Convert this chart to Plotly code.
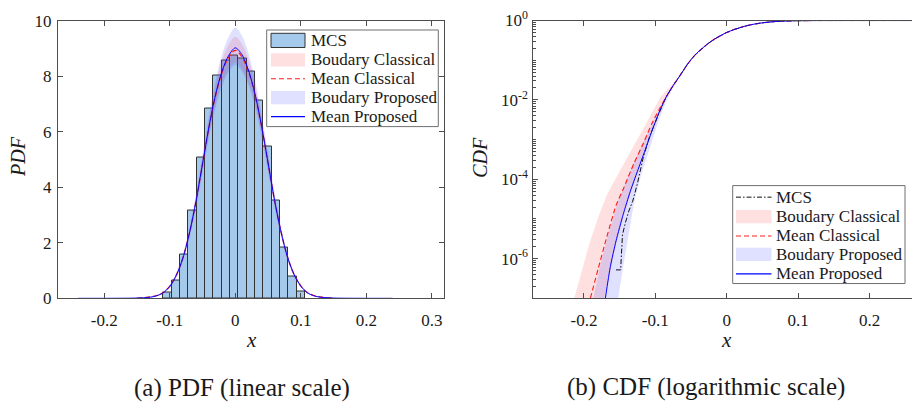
import numpy as np
import plotly.graph_objects as go

W, H = 912, 416
FONT = "Liberation Serif"
AX = "#4d4d4d"
TXT = "#1a1a1a"

# ------------------------------------------------------------------ data (a)
hist_edges = [-0.1100, -0.0973, -0.0845, -0.0718, -0.0591, -0.0464, -0.0336, -0.0209,
              -0.0082, 0.0045, 0.0173, 0.0300, 0.0427, 0.0555, 0.0682, 0.0809, 0.0936, 0.1064]
hist_density = [0.22, 0.64, 1.58, 3.15, 5.07, 6.82, 8.01, 8.55, 8.75, 8.63, 8.15, 7.11,
                5.45, 3.51, 1.84, 0.78, 0.25]

pdf_x = [-0.15, -0.14, -0.13, -0.12, -0.11, -0.10, -0.09, -0.08, -0.07, -0.06, -0.05,
         -0.04, -0.03, -0.02, -0.01, 0.00, 0.01, 0.02, 0.03, 0.04, 0.05, 0.06, 0.07,
         0.08, 0.09, 0.10, 0.11, 0.12, 0.13, 0.14, 0.15]
pdf_mean_classical = [0.01, 0.02, 0.05, 0.10, 0.21, 0.44, 0.84, 1.46, 2.36, 3.50, 4.84,
                      6.18, 7.32, 8.15, 8.68, 8.93, 8.70, 8.16, 7.34, 6.20, 4.87, 3.52,
                      2.38, 1.47, 0.85, 0.45, 0.21, 0.10, 0.05, 0.02, 0.01]
pdf_upper_classical = [0.02, 0.03, 0.06, 0.12, 0.23, 0.47, 0.89, 1.53, 2.47, 3.66, 5.06,
                       6.45, 7.68, 8.58, 9.14, 9.42, 9.16, 8.60, 7.70, 6.47, 5.09, 3.68,
                       2.49, 1.54, 0.90, 0.48, 0.23, 0.12, 0.06, 0.03, 0.02]
pdf_lower_classical = [0.00, 0.01, 0.04, 0.08, 0.19, 0.41, 0.79, 1.39, 2.25, 3.35, 4.63,
                       5.92, 7.00, 7.77, 8.25, 8.50, 8.27, 7.78, 7.02, 5.94, 4.66, 3.37,
                       2.27, 1.40, 0.80, 0.42, 0.19, 0.08, 0.04, 0.01, 0.00]
pdf_upper_proposed = [0.02, 0.03, 0.06, 0.12, 0.24, 0.49, 0.92, 1.58, 2.54, 3.76, 5.18,
                      6.62, 7.86, 8.80, 9.42, 9.74, 9.46, 8.82, 7.88, 6.64, 5.21, 3.78,
                      2.56, 1.59, 0.93, 0.50, 0.24, 0.12, 0.06, 0.03, 0.02]
pdf_lower_proposed = [0.00, 0.01, 0.03, 0.07, 0.17, 0.38, 0.75, 1.33, 2.17, 3.25, 4.52,
                      5.80, 6.88, 7.65, 8.15, 8.40, 8.17, 7.67, 6.90, 5.82, 4.55, 3.27,
                      2.19, 1.34, 0.76, 0.39, 0.17, 0.07, 0.03, 0.01, 0.00]
pdf_x_proposed = [-0.24, -0.20, -0.16] + pdf_x + [0.16, 0.20, 0.24]
pdf_mean_proposed = [0.0, 0.0, 0.005, 0.01, 0.02, 0.04, 0.09, 0.20, 0.43, 0.83, 1.45, 2.35,
                     3.50, 4.85, 6.20, 7.35, 8.20, 8.75, 9.02, 8.78, 8.22, 7.37, 6.22, 4.88,
                     3.52, 2.37, 1.46, 0.84, 0.44, 0.20, 0.09, 0.04, 0.02, 0.01, 0.005, 0.0, 0.0]

# ------------------------------------------------------------------ data (b)
cdf_x_upper = [-0.085, -0.075, -0.065, -0.055, -0.045, -0.035, -0.025, -0.015, -0.005,
               0.000, 0.010, 0.020, 0.030, 0.040, 0.050, 0.060, 0.070, 0.080, 0.090,
               0.100, 0.120, 0.150, 0.270]
cdf_upper = [1.17e-2, 2.3e-2, 4.2e-2, 7.9e-2, 0.132, 0.195, 0.272, 0.359, 0.452,
             0.50, 0.59, 0.675, 0.755, 0.822, 0.876, 0.918, 0.948, 0.968, 0.982,
             0.991, 0.998, 1.0, 1.0]

cdf_x_mean_classical_tail = [-0.191, -0.180, -0.168, -0.155, -0.145, -0.130, -0.117, -0.105, -0.095]
cdf_mean_classical_tail = [1.0e-7, 5.6e-7, 3.5e-6, 2.2e-5, 5.6e-5, 2.5e-4, 7.9e-4, 2.5e-3, 5.6e-3]

cdf_x_mean_proposed_tail = [-0.170, -0.163, -0.155, -0.145, -0.135, -0.125, -0.115, -0.105, -0.095]
cdf_mean_proposed_tail = [1.0e-7, 6.3e-7, 2.8e-6, 1.3e-5, 5.0e-5, 1.6e-4, 5.0e-4, 1.6e-3, 4.7e-3]

cdf_x_mcs_tail = [-0.155, -0.1485, -0.1475, -0.146, -0.142, -0.137, -0.1317, -0.125, -0.117,
                  -0.108, -0.095]
cdf_mcs_tail = [5.2e-7, 5.2e-7, 1.26e-6, 4.0e-6, 7.9e-6, 1.6e-5, 2.8e-5, 7.9e-5, 3.5e-4,
                1.2e-3, 4.5e-3]

band_cl_hi_x = [-0.2135, -0.203, -0.192, -0.180, -0.168, -0.150, -0.133, -0.113, -0.093,
                -0.080, -0.070, -0.060]
band_cl_hi = [1e-7, 5e-7, 2.5e-6, 1.1e-5, 4.0e-5, 1.6e-4, 5.6e-4, 2.5e-3, 1.17e-2,
              2.1e-2, 3.3e-2, 6.0e-2]
band_cl_lo_x = [-0.172, -0.163, -0.155, -0.145, -0.135, -0.125, -0.115, -0.105, -0.095,
                -0.085, -0.075, -0.060]
band_cl_lo = [1e-7, 5e-7, 2.3e-6, 1.1e-5, 4.2e-5, 1.4e-4, 4.5e-4, 1.45e-3, 4.4e-3,
              1.1e-2, 2.2e-2, 5.8e-2]
band_pr_hi_x = [-0.187, -0.177, -0.166, -0.153, -0.140, -0.127, -0.113, -0.100, -0.090,
                -0.080, -0.070, -0.060]
band_pr_hi = [1e-7, 7e-7, 4e-6, 2.5e-5, 1e-4, 3.5e-4, 1.2e-3, 3.8e-3, 8.5e-3,
              1.7e-2, 3.1e-2, 6.0e-2]
band_pr_lo_x = [-0.152, -0.145, -0.138, -0.130, -0.120, -0.108, -0.095, -0.085, -0.078,
                -0.070, -0.060]
band_pr_lo = [1e-7, 6.3e-7, 4e-6, 2.5e-5, 1.26e-4, 6.3e-4, 3.2e-3, 8.9e-3, 1.6e-2,
              2.9e-2, 5.8e-2]

legend_labels = ["MCS", "Boudary Classical", "Mean Classical", "Boudary Proposed", "Mean Proposed"]
pdf_ticks_x = [-0.2, -0.1, 0, 0.1, 0.2, 0.3]
pdf_ticktext_x = ["-0.2", "-0.1", "0", "0.1", "0.2", "0.3"]
pdf_ticks_y = [0, 2, 4, 6, 8, 10]
cdf_ticks_x = [-0.2, -0.1, 0, 0.1, 0.2]
cdf_ticktext_x = ["-0.2", "-0.1", "0", "0.1", "0.2"]
cdf_ticks_y = [1e-6, 1e-4, 1e-2, 1e0]
cdf_ticktext_y = ["10<sup>-6</sup>", "10<sup>-4</sup>", "10<sup>-2</sup>", "10<sup>0</sup>"]
captions = ["(a) PDF (linear scale)", "(b) CDF (logarithmic scale)"]

# ------------------------------------------------------------------ styles
BAR_FILL = "rgb(164,201,234)"
BAR_EDGE = "rgb(50,50,50)"
PINK = "rgba(255,60,60,0.16)"
LILAC = "rgba(60,60,255,0.16)"
RED = "#ff1a1a"
BLUE = "#0000ff"

fig = go.Figure()

# ---- (a) PDF
edges = np.array(hist_edges)
centers = (edges[:-1] + edges[1:]) / 2
widths = np.diff(edges)
fig.add_trace(go.Bar(x=centers, y=hist_density, width=widths, marker=dict(color=BAR_FILL,
              line=dict(color=BAR_EDGE, width=1)), xaxis="x", yaxis="y", showlegend=False))
fig.add_trace(go.Scatter(x=pdf_x, y=pdf_lower_classical, mode="lines", line=dict(width=0, shape="spline"),
                         xaxis="x", yaxis="y", showlegend=False, hoverinfo="skip"))
fig.add_trace(go.Scatter(x=pdf_x, y=pdf_upper_classical, mode="lines", line=dict(width=0, shape="spline"),
                         fill="tonexty", fillcolor=PINK, xaxis="x", yaxis="y", showlegend=False))
fig.add_trace(go.Scatter(x=pdf_x, y=pdf_lower_proposed, mode="lines", line=dict(width=0, shape="spline"),
                         xaxis="x", yaxis="y", showlegend=False, hoverinfo="skip"))
fig.add_trace(go.Scatter(x=pdf_x, y=pdf_upper_proposed, mode="lines", line=dict(width=0, shape="spline"),
                         fill="tonexty", fillcolor=LILAC, xaxis="x", yaxis="y", showlegend=False))
fig.add_trace(go.Scatter(x=pdf_x, y=pdf_mean_classical, mode="lines",
                         line=dict(color=RED, width=1.2, dash="5px,3px", shape="spline"),
                         xaxis="x", yaxis="y", showlegend=False))
fig.add_trace(go.Scatter(x=pdf_x_proposed, y=pdf_mean_proposed, mode="lines",
                         line=dict(color=BLUE, width=1.0, shape="spline", smoothing=0.8),
                         xaxis="x", yaxis="y", showlegend=False))

# ---- (b) CDF
def band(xh, yh, xl, yl):
    shared = [(x, y) for x, y in zip(cdf_x_upper, cdf_upper) if x > max(xh[-1], xl[-1]) + 1e-9]
    sx = [p[0] for p in shared]
    sy = [p[1] for p in shared]
    xs = list(xh) + sx + sx[::-1] + list(xl[::-1])
    ys = list(yh) + sy + sy[::-1] + list(yl[::-1])
    return xs, ys

bx, by = band(band_cl_hi_x, band_cl_hi, band_cl_lo_x, band_cl_lo)
fig.add_trace(go.Scatter(x=bx, y=by, mode="lines", line=dict(width=0), fill="toself",
                         fillcolor=PINK, xaxis="x2", yaxis="y2", showlegend=False))
bx, by = band(band_pr_hi_x, band_pr_hi, band_pr_lo_x, band_pr_lo)
fig.add_trace(go.Scatter(x=bx, y=by, mode="lines", line=dict(width=0), fill="toself",
                         fillcolor=LILAC, xaxis="x2", yaxis="y2", showlegend=False))
fig.add_trace(go.Scatter(x=cdf_x_mcs_tail + cdf_x_upper, y=cdf_mcs_tail + cdf_upper, mode="lines",
                         line=dict(color="#111111", width=1, dash="5px,2px,1.5px,2px"),
                         xaxis="x2", yaxis="y2", showlegend=False))
fig.add_trace(go.Scatter(x=cdf_x_mean_classical_tail + cdf_x_upper, y=cdf_mean_classical_tail + cdf_upper,
                         mode="lines", line=dict(color=RED, width=1.1, dash="5px,3px", shape="spline", smoothing=0.6),
                         xaxis="x2", yaxis="y2", showlegend=False))
fig.add_trace(go.Scatter(x=cdf_x_mean_proposed_tail + cdf_x_upper, y=cdf_mean_proposed_tail + cdf_upper,
                         mode="lines", line=dict(color=BLUE, width=1, shape="spline", smoothing=0.6),
                         xaxis="x2", yaxis="y2", showlegend=False))

# ------------------------------------------------------------------ layout
def px(v): return v / W
def py(v): return 1 - v / H

tickfont = dict(family=FONT, size=17, color=TXT)
common = dict(showline=True, linecolor=AX, linewidth=1, ticks="inside", ticklen=5,
              tickcolor=AX, tickwidth=1, showgrid=False, zeroline=False, tickfont=tickfont)

minor_vals = [m * 10.0 ** k for k in range(-7, 0) for m in range(1, 10) if not (m == 1 and k % 2 == 0)]

fig.update_layout(
    width=W, height=H, margin=dict(l=0, r=0, t=0, b=0),
    paper_bgcolor="white", plot_bgcolor="white", bargap=0,
    font=dict(family=FONT, color=TXT),
    xaxis=dict(domain=[px(58), px(444)], range=[-0.2707, 0.3186], tickmode="array",
               tickvals=pdf_ticks_x, ticktext=pdf_ticktext_x, mirror="ticks", anchor="y",
               ticklabelstandoff=6, **common),
    yaxis=dict(domain=[py(302.3), py(9)], range=[0, 10.003], tickmode="array", tickvals=pdf_ticks_y,
               mirror="ticks", anchor="x", ticklabelstandoff=2, **common),
    xaxis2=dict(domain=[px(533.3), 1.0], range=[-0.2709, 0.2595], tickmode="array",
                tickvals=cdf_ticks_x, ticktext=cdf_ticktext_x, mirror="ticks", anchor="y2",
                ticklabelstandoff=6, **common),
    yaxis2=dict(domain=[py(302.3), py(9)], type="log", range=[-7, 0.0003], tickmode="array",
                tickvals=cdf_ticks_y, ticktext=cdf_ticktext_y, anchor="x2", ticklabelstandoff=1,
                minor=dict(tickmode="array", tickvals=minor_vals, ticks="inside", ticklen=3,
                           tickcolor=AX, showgrid=False), **common),
    showlegend=False,
)

shapes = []
annotations = []

def text(x, y, s, size=17, xanchor="center", yanchor="middle", italic=False, angle=0):
    annotations.append(dict(x=px(x), y=py(y), xref="paper", yref="paper", text=(f"<i>{s}</i>" if italic else s),
                            showarrow=False, xanchor=xanchor, yanchor=yanchor, textangle=angle,
                            font=dict(family=FONT, size=size, color=TXT)))

# axis titles and captions
text(251, 346, "x", size=21, italic=True)
text(726.7, 346.5, "x", size=21, italic=True)
text(18, 153, "PDF", size=20, italic=True, angle=-90)
text(480, 154, "CDF", size=20, italic=True, angle=-90)
text(241.7, 397, captions[0], size=25)
text(706.3, 396, captions[1], size=25)

def rect(x0, y0, x1, y1, fill, line=None, lw=1):
    shapes.append(dict(type="rect", xref="paper", yref="paper", x0=px(x0), x1=px(x1), y0=py(y1), y1=py(y0),
                       fillcolor=fill, line=dict(color=line or "rgba(0,0,0,0)", width=lw if line else 0)))

def hline(x0, x1, y, color, width, dash="solid"):
    shapes.append(dict(type="line", xref="paper", yref="paper", x0=px(x0), x1=px(x1), y0=py(y), y1=py(y),
                       line=dict(color=color, width=width, dash=dash)))

def legend(box, rows, sx0, sx1, tx, mcs_as_bar):
    x0, y0, x1, y1 = box
    rect(x0, y0, x1, y1, "white", "#707070", 1)
    for i, (lab, yc) in enumerate(zip(legend_labels, rows)):
        if i == 0:
            if mcs_as_bar:
                rect(sx0, yc - 7.5, sx1, yc + 7.5, BAR_FILL, BAR_EDGE, 1)
            else:
                hline(sx0, sx1, yc, "#111111", 1, "5px,2px,1.5px,2px")
        elif i == 1:
            rect(sx0, yc - 7, sx1, yc + 7, PINK)
        elif i == 2:
            hline(sx0, sx1, yc, RED, 1.2, "5px,3px")
        elif i == 3:
            rect(sx0, yc - 7, sx1, yc + 7, LILAC)
        else:
            hline(sx0, sx1, yc, BLUE, 1.1)
        text(tx, yc, lab, size=17, xanchor="left")

legend((266.7, 19, 438.3, 121), [30, 50.5, 70.5, 90.5, 110.5], 271, 305, 308.5, True)
legend((732.7, 183.3, 905, 286.7), [195.5, 216, 236.5, 256, 276.5], 736, 771.5, 773.5, False)

fig.update_layout(shapes=shapes, annotations=annotations)
fig.write_html("out.html")
